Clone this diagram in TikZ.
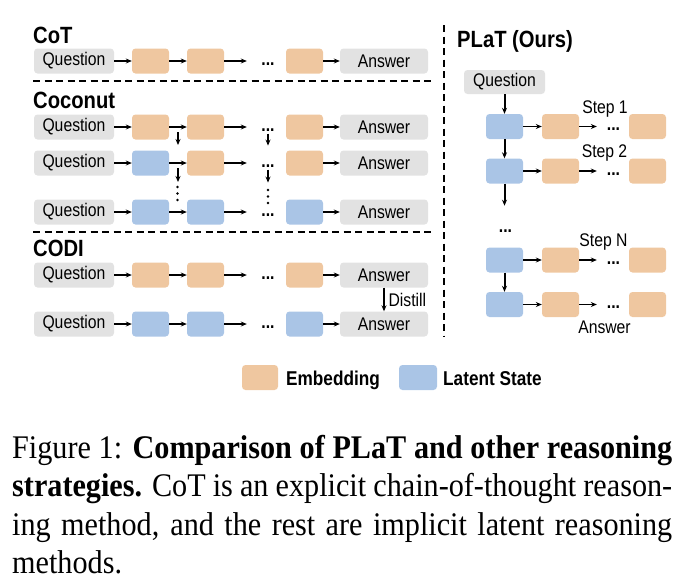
\documentclass[tikz,border=0pt]{standalone}
\usepackage{fontspec}
\setmainfont{Liberation Serif}[FakeStretch=0.915]
\newfontfamily\sfd{Liberation Sans}[FakeStretch=0.86]
\usetikzlibrary{arrows.meta,calc}
\definecolor{embfill}{RGB}{239,199,160}
\definecolor{latfill}{RGB}{170,197,230}
\definecolor{qfill}{RGB}{226,226,226}

\begin{document}
\begin{tikzpicture}[x=1pt,y=-1pt,
  box/.style={rounded corners=3.5pt,minimum height=25pt,inner sep=0pt,font=\sfd\fontsize{18.3}{20}\selectfont},
  qbox/.style={box,fill=qfill,minimum width=80pt},
  abox/.style={box,fill=qfill,minimum width=88pt},
  ebox/.style={box,fill=embfill,minimum width=37pt},
  lbox/.style={box,fill=latfill,minimum width=37pt},
  hdots/.style={inner sep=0pt,minimum width=42pt,font=\sfd\bfseries\fontsize{18.3}{20}\selectfont},
  title/.style={anchor=base west,inner sep=0pt,font=\sfd\bfseries\fontsize{23.5}{26}\selectfont},
  lab/.style={inner sep=0pt,font=\sfd\fontsize{18.3}{20}\selectfont},
  legtext/.style={anchor=base west,inner sep=0pt,font=\sfd\bfseries\fontsize{20}{22}\selectfont},
  arr/.style={-{Stealth[length=6pt,width=5pt]},line width=1.1pt},
  varr/.style={arr,line width=2pt},
  divider/.style={dash pattern=on 7pt off 4.5pt,line width=1.3pt}]
\useasboundingbox (0,0) rectangle (691,587);

\node[title] (cot) at (33,43) {CoT};
\node[qbox] (cq) at (74,61) {Question};
\node[ebox] (cb1) at (150.5,61) {};
\node[ebox] (cb2) at (205.5,61) {};
\node[hdots] (cd) at (268,64) {...};
\node[ebox] (cb3) at (304.5,61) {};
\node[abox] (ca) at (384,61) {Answer};
\draw[arr] (cq) -- (cb1);
\draw[arr] (cb1) -- (cb2);
\draw[arr] (cb2) -- (cb2 -| cd.west);
\draw[arr] (cb3) -- (ca);
\draw[divider] (33,81) -- (432,81);

\node[title] (coconut) at (33,108) {Coconut};
\node[qbox] (k1q) at (74,127) {Question};
\node[ebox] (k1b1) at (150.5,127) {};
\node[ebox] (k1b2) at (205.5,127) {};
\node[hdots] (k1d) at (268,130) {...};
\node[ebox] (k1b3) at (304.5,127) {};
\node[abox] (k1a) at (384,127) {Answer};
\draw[arr] (k1q) -- (k1b1);
\draw[arr] (k1b1) -- (k1b2);
\draw[arr] (k1b2) -- (k1b2 -| k1d.west);
\draw[arr] (k1b3) -- (k1a);
\node[qbox] (k2q) at (74,163) {Question};
\node[lbox] (k2b1) at (150.5,163) {};
\node[ebox] (k2b2) at (205.5,163) {};
\node[hdots] (k2d) at (268,166) {...};
\node[ebox] (k2b3) at (304.5,163) {};
\node[abox] (k2a) at (384,163) {Answer};
\draw[arr] (k2q) -- (k2b1);
\draw[arr] (k2b1) -- (k2b2);
\draw[arr] (k2b2) -- (k2b2 -| k2d.west);
\draw[arr] (k2b3) -- (k2a);
\node[qbox] (k3q) at (74,212) {Question};
\node[lbox] (k3b1) at (150.5,212) {};
\node[lbox] (k3b2) at (205.5,212) {};
\node[hdots] (k3d) at (268,215) {...};
\node[lbox] (k3b3) at (304.5,212) {};
\node[abox] (k3a) at (384,212) {Answer};
\draw[arr] (k3q) -- (k3b1);
\draw[arr] (k3b1) -- (k3b2);
\draw[arr] (k3b2) -- (k3b2 -| k3d.west);
\draw[arr] (k3b3) -- (k3a);
\draw[arr] ($(k1b1.east)!.5!(k1b2.west)+(0,5)$) -- ++(0,13);
\draw[arr] ($(k2b1.east)!.5!(k2b2.west)+(0,5)$) -- ++(0,14);
\draw[arr] ($(k1d.south)+(0,2)$) -- ++(0,12);
\draw[arr] ($(k2d.south)+(0,2)$) -- ++(0,13);
\foreach \v in {0,6.5,13} \fill (177.5,187+\v) circle (1.3pt);
\foreach \v in {0,6.5,13} \fill (268,190+\v) circle (1.3pt);
\draw[divider] (33,232) -- (432,232);

\node[title] (codi) at (33,256) {CODI};
\node[qbox] (d1q) at (74,275) {Question};
\node[ebox] (d1b1) at (150.5,275) {};
\node[ebox] (d1b2) at (205.5,275) {};
\node[hdots] (d1d) at (268,278) {...};
\node[ebox] (d1b3) at (304.5,275) {};
\node[abox] (d1a) at (384,275) {Answer};
\draw[arr] (d1q) -- (d1b1);
\draw[arr] (d1b1) -- (d1b2);
\draw[arr] (d1b2) -- (d1b2 -| d1d.west);
\draw[arr] (d1b3) -- (d1a);
\node[qbox] (d2q) at (74,324) {Question};
\node[lbox] (d2b1) at (150.5,324) {};
\node[lbox] (d2b2) at (205.5,324) {};
\node[hdots] (d2d) at (268,327) {...};
\node[lbox] (d2b3) at (304.5,324) {};
\node[abox] (d2a) at (384,324) {Answer};
\draw[arr] (d2q) -- (d2b1);
\draw[arr] (d2b1) -- (d2b2);
\draw[arr] (d2b2) -- (d2b2 -| d2d.west);
\draw[arr] (d2b3) -- (d2a);
\draw[arr] (d1a) -- node[lab,right=4pt] {Distill} (d2a);

\draw[divider] (444,25) -- (444,337);

\node[title] (plat) at (457,47) {PLaT (Ours)};
\node[qbox,minimum width=81pt,minimum height=24pt] (pq) at (504.5,82) {Question};
\node[lbox] (p1) at (504.5,126.5) {};
\node[ebox] (p1e) at (560.5,126.5) {};
\node[hdots,minimum width=33pt] (p1d) at (613.5,129.5) {...};
\node[ebox] (p1f) at (647.5,126.5) {};
\node[lab] (s1) at (605,109) {Step 1};
\node[lbox] (p2) at (504.5,171) {};
\node[ebox] (p2e) at (560.5,171) {};
\node[hdots,minimum width=33pt] (p2d) at (613.5,174) {...};
\node[ebox] (p2f) at (647.5,171) {};
\node[lab] (s2) at (604.5,153.5) {Step 2};
\node[hdots,minimum width=0pt] (pv) at (505.5,231) {...};
\node[lbox] (pn) at (504.5,260) {};
\node[ebox] (pne) at (560.5,260) {};
\node[hdots,minimum width=33pt] (pnd) at (613.5,263) {...};
\node[ebox] (pnf) at (647.5,260) {};
\node[lab] (sn) at (603.5,242) {Step N};
\node[lbox] (pa) at (504.5,304.5) {};
\node[ebox] (pae) at (560.5,304.5) {};
\node[hdots,minimum width=33pt] (pad) at (613.5,307.5) {...};
\node[ebox] (paf) at (647.5,304.5) {};
\node[lab] (sa) at (604.5,327) {Answer};
\draw[varr] (pq) -- (p1);
\draw[varr] (p1) -- (p2);
\draw[varr] (p2.south) -- ++(0,22);
\draw[varr] (pn) -- (pa);
\draw[arr] (p1) -- (p1e);
\draw[arr] (p1e) -- (p1e -| p1d.west);
\draw[arr] (p2) -- (p2e);
\draw[arr] (p2e) -- (p2e -| p2d.west);
\draw[arr] (pn) -- (pne);
\draw[arr] (pne) -- (pne -| pnd.west);
\draw[arr] (pa) -- (pae);
\draw[arr] (pae) -- (pae -| pad.west);

\node[ebox,minimum width=36pt] (lege) at (260,377.5) {};
\node[legtext] (legetext) at (286,385) {Embedding};
\node[lbox,minimum width=38pt] (legl) at (418,377.5) {};
\node[legtext] (legltext) at (443,385) {Latent State};

\node[anchor=base west,inner sep=0pt,text width=660pt,align=justify,font=\fontsize{33}{38.5}\selectfont] (caption) at (12,458)
  {\emergencystretch=20pt Figure 1: \textbf{Comparison of PLaT and other reasoning}\linebreak
   \textbf{strategies.} CoT is an explicit chain-of-thought reason-\linebreak
   ing method, and the rest are implicit latent reasoning\linebreak
   methods.};
\end{tikzpicture}
\end{document}
